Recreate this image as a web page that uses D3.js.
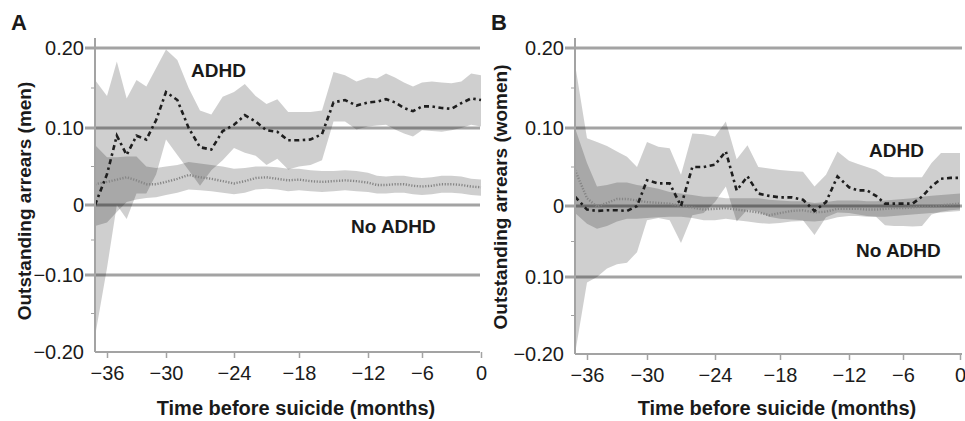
<!DOCTYPE html>
<html>
<head>
<meta charset="utf-8">
<script src="https://cdn.jsdelivr.net/npm/d3@7"></script>
<style>
  body { margin: 0; background: #fff; }
  svg { display: block; }
  text { font-family: "Liberation Sans", Arial, sans-serif; fill: #1a1a1a; }
</style>
</head>
<body>
<svg id="chart" width="965" height="421"></svg>
<script>
// months before suicide
const months = [-37, -36, -35, -34, -33, -32, -31, -30, -29, -28, -27, -26, -25,
  -24, -23, -22, -21, -20, -19, -18, -17, -16, -15, -14, -13, -12, -11, -10,
  -9, -8, -7, -6, -5, -4, -3, -2, -1, 0];
const xTicks = [-36, -30, -24, -18, -12, -6, 0];
const yTicks = [-0.2, -0.1, 0, 0.1, 0.2];
const yLabelsA = ["−0.20", "−0.10", "0", "0.10", "0.20"];
const yLabelsB = ["−0.20", "0.10", "0", "0.10", "0.20"];

// Panel A (men)
const adhdMen = [0.0, 0.04, 0.09, 0.065, 0.09, 0.085, 0.11, 0.145, 0.135, 0.1, 0.075, 0.072, 0.096,
  0.104, 0.116, 0.108, 0.097, 0.095, 0.084, 0.084, 0.085, 0.092, 0.132, 0.135, 0.128, 0.132, 0.133, 0.136,
  0.132, 0.125, 0.121, 0.127, 0.127, 0.125, 0.124, 0.131, 0.137, 0.135];
const adhdMenHi = [0.16, 0.14, 0.183, 0.137, 0.16, 0.152, 0.175, 0.198, 0.185, 0.15, 0.122, 0.117, 0.139,
  0.145, 0.155, 0.14, 0.13, 0.136, 0.12, 0.12, 0.12, 0.122, 0.17, 0.166, 0.158, 0.163, 0.162, 0.168,
  0.163, 0.157, 0.152, 0.157, 0.158, 0.157, 0.156, 0.158, 0.168, 0.166];
const adhdMenLo = [-0.18, -0.09, 0.0, -0.02, 0.015, 0.015, 0.04, 0.085, 0.065, 0.045, 0.025, 0.045, 0.058,
  0.074, 0.068, 0.064, 0.052, 0.06, 0.046, 0.05, 0.052, 0.058, 0.108, 0.108, 0.098, 0.102, 0.103, 0.104,
  0.098, 0.093, 0.089, 0.097, 0.096, 0.095, 0.097, 0.1, 0.104, 0.102];
const noAdhdMen = [0.027, 0.03, 0.033, 0.036, 0.032, 0.027, 0.027, 0.03, 0.034, 0.039, 0.036, 0.034, 0.031,
  0.028, 0.031, 0.035, 0.036, 0.034, 0.032, 0.033, 0.031, 0.03, 0.031, 0.032, 0.031, 0.029, 0.026, 0.026,
  0.027, 0.027, 0.025, 0.024, 0.025, 0.027, 0.027, 0.026, 0.024, 0.023];
const noAdhdMenHi = [0.078, 0.062, 0.062, 0.063, 0.063, 0.05, 0.048, 0.05, 0.052, 0.056, 0.054, 0.052, 0.05,
  0.047, 0.048, 0.05, 0.05, 0.049, 0.047, 0.047, 0.045, 0.044, 0.044, 0.045, 0.044, 0.042, 0.038, 0.037,
  0.038, 0.038, 0.036, 0.035, 0.036, 0.038, 0.038, 0.037, 0.034, 0.033];
const noAdhdMenLo = [-0.03, -0.025, -0.01, 0.004, 0.007, 0.009, 0.01, 0.013, 0.016, 0.02, 0.019, 0.018, 0.016,
  0.014, 0.016, 0.02, 0.021, 0.02, 0.018, 0.019, 0.018, 0.017, 0.018, 0.019, 0.018, 0.017, 0.015, 0.015,
  0.016, 0.016, 0.014, 0.013, 0.014, 0.016, 0.016, 0.015, 0.013, 0.012];

// Panel B (women)
const adhdWomen = [0.012, -0.005, -0.007, -0.006, -0.006, -0.007, 0.0, 0.033, 0.029, 0.029, 0.0, 0.05, 0.05,
  0.053, 0.07, 0.02, 0.038, 0.016, 0.013, 0.011, 0.011, 0.008, -0.007, 0.005, 0.038, 0.024, 0.02, 0.02,
  0.013, 0.003, 0.003, 0.003, 0.003, 0.012, 0.025, 0.035, 0.036, 0.036];
const adhdWomenHi = [0.18, 0.087, 0.082, 0.077, 0.07, 0.063, 0.05, 0.082, 0.076, 0.074, 0.04, 0.093, 0.092,
  0.089, 0.108, 0.06, 0.078, 0.05, 0.048, 0.046, 0.045, 0.044, 0.025, 0.04, 0.07, 0.058, 0.054, 0.05,
  0.046, 0.038, 0.037, 0.037, 0.037, 0.037, 0.055, 0.068, 0.068, 0.068];
const adhdWomenLo = [-0.2, -0.107, -0.1, -0.088, -0.082, -0.08, -0.065, -0.02, -0.017, -0.02, -0.052, -0.013, -0.01,
  0.005, 0.025, -0.022, -0.005, -0.008, -0.015, -0.018, -0.019, -0.02, -0.041, -0.016, -0.009, -0.01, -0.012, -0.014,
  -0.015, -0.027, -0.028, -0.028, -0.029, -0.028, -0.012, -0.008, -0.006, -0.005];
const noAdhdWomen = [0.046, 0.01, -0.001, 0.004, 0.009, 0.009, 0.007, 0.005, 0.004, 0.003, 0.0, -0.002, -0.005,
  -0.004, -0.003, -0.005, -0.007, -0.009, -0.013, -0.01, -0.007, -0.006, -0.009, -0.008, -0.004, -0.004, -0.004, -0.005,
  -0.005, -0.004, -0.003, -0.003, -0.002, -0.001, -0.001, 0.001, 0.002, 0.003];
const noAdhdWomenHi = [0.1, 0.055, 0.025, 0.027, 0.03, 0.03, 0.027, 0.025, 0.022, 0.018, 0.016, 0.014, 0.012,
  0.012, 0.01, 0.01, 0.01, 0.01, 0.008, 0.007, 0.006, 0.006, 0.004, 0.005, 0.007, 0.007, 0.007, 0.006,
  0.006, 0.007, 0.008, 0.009, 0.01, 0.012, 0.013, 0.014, 0.015, 0.016];
const noAdhdWomenLo = [-0.01, -0.025, -0.032, -0.028, -0.022, -0.018, -0.018, -0.017, -0.016, -0.015, -0.015, -0.017, -0.02,
  -0.02, -0.018, -0.02, -0.022, -0.024, -0.025, -0.024, -0.022, -0.021, -0.022, -0.02, -0.016, -0.014, -0.014, -0.015,
  -0.015, -0.015, -0.014, -0.013, -0.012, -0.011, -0.01, -0.009, -0.008, -0.007];

const svg = d3.select("#chart");
const gridColor = "#a3a3a3";
const fontStack = '"Liberation Sans", Arial, sans-serif';

function drawPanel(cfg) {
  // the original axes are not evenly spaced, so use polylinear scales
  const x = d3.scaleLinear()
    .domain([-37, -36, -30, -24, -18, -12, -6, 0])
    .range(cfg.xRange);
  const y = d3.scaleLinear()
    .domain(yTicks)
    .range(cfg.yRange);
  const x0 = cfg.xRange[0];
  const x1 = cfg.right;
  const g = svg.append("g");

  // gridlines (with the little tick stub left of the axis)
  g.selectAll(".grid")
    .data(yTicks.filter((d) => d > -0.2))
    .join("line")
    .attr("x1", x0 - 10)
    .attr("x2", x1)
    .attr("y1", (d) => y(d))
    .attr("y2", (d) => y(d))
    .attr("stroke", gridColor)
    .attr("stroke-width", 3);

  // minor ticks
  g.selectAll(".minor")
    .data([-0.15, -0.05, 0.05, 0.15])
    .join("line")
    .attr("x1", x0 - 4)
    .attr("x2", x0)
    .attr("y1", (d) => y(d))
    .attr("y2", (d) => y(d))
    .attr("stroke", gridColor)
    .attr("stroke-width", 1);

  // confidence bands
  const rows = (mid, lo, hi) => months.map((m, i) => ({ m: m, v: mid[i], lo: lo[i], hi: hi[i] }));
  const area = d3.area()
    .x((d) => x(d.m))
    .y0((d) => y(d.lo))
    .y1((d) => y(d.hi));
  const line = d3.line()
    .x((d) => x(d.m))
    .y((d) => y(d.v));

  const adhd = rows(cfg.adhd, cfg.adhdLo, cfg.adhdHi);
  const noAdhd = rows(cfg.no, cfg.noLo, cfg.noHi);

  [adhd, noAdhd].forEach((series) => {
    g.append("path")
      .datum(series)
      .attr("d", area)
      .attr("fill", "#000")
      .attr("fill-opacity", 0.19);
  });

  g.append("path")
    .datum(noAdhd)
    .attr("d", line)
    .attr("fill", "none")
    .attr("stroke", "#858585")
    .attr("stroke-width", 2.4)
    .attr("stroke-dasharray", "1.2,1.6");

  g.append("path")
    .datum(adhd)
    .attr("d", line)
    .attr("fill", "none")
    .attr("stroke", "#1e1e1e")
    .attr("stroke-width", 2.6)
    .attr("stroke-dasharray", "5,3.5,2.5,3.5");

  // axes
  const yAxis = g.append("g")
    .attr("transform", `translate(${x0},0)`)
    .call(d3.axisLeft(y).tickValues(yTicks).tickSize(0).tickPadding(11)
      .tickFormat((d, i) => cfg.yLabels[i]));
  yAxis.select(".domain").remove();
  yAxis.selectAll("text")
    .attr("font-size", 20)
    .attr("fill", "#1a1a1a")
    .style("font-family", fontStack);

  g.append("line")
    .attr("x1", x0).attr("x2", x0)
    .attr("y1", 38).attr("y2", cfg.yRange[0])
    .attr("stroke", gridColor).attr("stroke-width", 2);

  const xAxis = g.append("g")
    .attr("transform", `translate(0,${cfg.yRange[0]})`)
    .call(d3.axisBottom(x).tickValues(xTicks).tickSize(6).tickPadding(8));
  xAxis.select(".domain")
    .attr("d", `M${x0},0H${x1}`)
    .attr("stroke", gridColor)
    .attr("stroke-width", 2);
  xAxis.selectAll(".tick line").attr("stroke", gridColor).attr("stroke-width", 1.5);
  xAxis.selectAll("text")
    .attr("font-size", 20)
    .attr("fill", "#1a1a1a")
    .style("font-family", fontStack);

  // titles
  g.append("text")
    .attr("x", cfg.xTitleX)
    .attr("y", 415)
    .attr("text-anchor", "middle")
    .attr("font-size", 20)
    .attr("font-weight", "bold")
    .text("Time before suicide (months)");

  g.append("text")
    .attr("transform", `translate(${cfg.yTitleX},${cfg.yTitleY}) rotate(-90)`)
    .attr("text-anchor", "middle")
    .attr("font-size", 19)
    .attr("font-weight", "bold")
    .text(cfg.yTitle);

  g.append("text")
    .attr("x", cfg.letterX)
    .attr("y", 30)
    .attr("font-size", 22)
    .attr("font-weight", "bold")
    .text(cfg.letter);

  cfg.notes.forEach((n) => {
    g.append("text")
      .attr("x", n.x)
      .attr("y", n.y)
      .attr("font-size", 19)
      .attr("font-weight", "bold")
      .text(n.text);
  });
}

drawPanel({
  letter: "A",
  letterX: 11,
  xRange: [95, 107, 166, 234, 299, 368, 422, 481],
  yRange: [352, 275, 205, 128, 48],
  right: 480,
  xTitleX: 296,
  yLabels: yLabelsA,
  yTitle: "Outstanding arrears (men)",
  yTitleX: 31,
  yTitleY: 201,
  adhd: adhdMen, adhdLo: adhdMenLo, adhdHi: adhdMenHi,
  no: noAdhdMen, noLo: noAdhdMenLo, noHi: noAdhdMenHi,
  notes: [
    { text: "ADHD", x: 191, y: 77 },
    { text: "No ADHD", x: 351, y: 233 }
  ]
});

drawPanel({
  letter: "B",
  letterX: 491,
  xRange: [575, 587, 647, 715, 780, 849, 903, 960],
  yRange: [354, 277, 206, 128, 48],
  right: 962,
  xTitleX: 777,
  yLabels: yLabelsB,
  yTitle: "Outstanding arrears (women)",
  yTitleX: 507,
  yTitleY: 197,
  adhd: adhdWomen, adhdLo: adhdWomenLo, adhdHi: adhdWomenHi,
  no: noAdhdWomen, noLo: noAdhdWomenLo, noHi: noAdhdWomenHi,
  notes: [
    { text: "ADHD", x: 869, y: 157 },
    { text: "No ADHD", x: 856, y: 257 }
  ]
});
</script>
</body>
</html>
